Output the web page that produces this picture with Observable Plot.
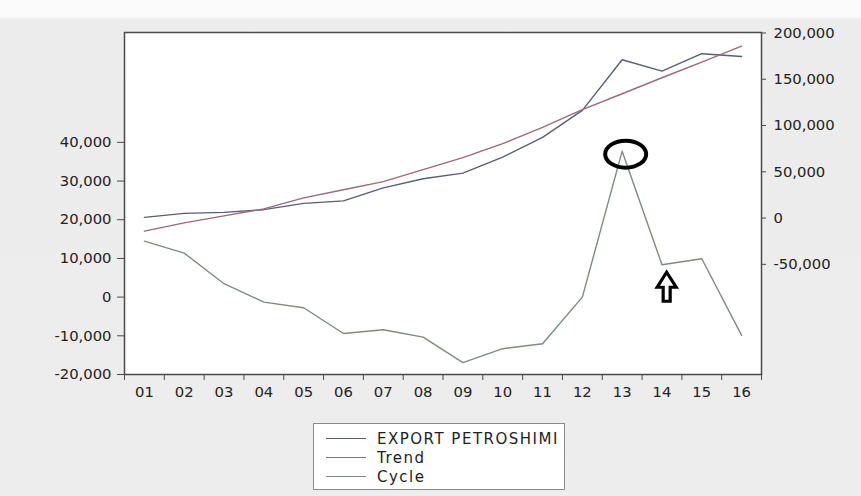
<!DOCTYPE html>
<html><head><meta charset="utf-8">
<script src="https://cdn.jsdelivr.net/npm/d3@7"></script>
<script src="https://cdn.jsdelivr.net/npm/@observablehq/plot@0.6"></script>
<style>
html,body{margin:0;padding:0;}
body{width:861px;height:496px;overflow:hidden;position:relative;
  background:linear-gradient(#fbfbfb 0px,#fbfbfb 16px,#ececec 20px,#ededed 100%);
  font-family:"DejaVu Sans",sans-serif;}
#chart svg{display:block;}
#legend{position:absolute;left:313px;top:423px;width:252px;height:67px;background:#fff;border:1px solid #8a8a8a;box-sizing:border-box;}
.item{position:absolute;left:0;width:250px;height:18px;}
.item .ln{position:absolute;left:12px;top:8px;width:40px;height:0;border-top:1.5px solid #888;}
.item .tx{position:absolute;left:63px;top:0;font-size:15px;line-height:18px;letter-spacing:1.5px;color:#1e1e1e;white-space:nowrap;}
</style>
</head><body>
<div id="chart"></div>
<div id="legend"></div>
<script>
// ---- data ----
const years = ["01","02","03","04","05","06","07","08","09","10","11","12","13","14","15","16"];
const exportVals = [760, 5080, 6160, 9070, 15880, 18580, 32600, 42550, 48600, 65880, 87160, 116400, 171080, 158760, 177560, 174640];
const trendVals  = [-14040, -5180, 2380, 9940, 21820, 30670, 39420, 52380, 65230, 80350, 97960, 117070, 134350, 151630, 168480, 185760];
const cycleVals  = [14470, 11370, 3460, -1290, -2740, -9400, -8420, -10340, -16950, -13330, -12040, 0, 37730, 8370, 9920, -9900];
const leftTicks  = [-20000, -10000, 0, 10000, 20000, 30000, 40000];
const rightTicks = [-50000, 0, 50000, 100000, 150000, 200000];
const seriesNames = ["EXPORT PETROSHIMI", "Trend", "Cycle"];
const seriesColors = ["#5a5e74", "#9b6a77", "#7f8b80"];
const circledYear = "13";
const arrowYear = "14";

// ---- scales (left axis = Cycle, right axis = Export & Trend) ----
const lmin = -20000, lmax = 68400, rmin = -169000, rmax = 200500;
const toLeft = v => lmin + (v - rmin) * (lmax - lmin) / (rmax - rmin);
const fromLeft = u => rmin + (u - lmin) * (rmax - rmin) / (lmax - lmin);
const locale = d3.formatLocale({decimal: ".", thousands: ",", grouping: [3], currency: ["", ""], minus: "-"});
const fmt = locale.format(",");

const rows = years.map((t, i) => ({i: i + 1, label: t, exp: exportVals[i], trend: trendVals[i], cycle: cycleVals[i]}));
const edges = d3.range(0, years.length + 1).map(k => k + 0.5);
const centers = rows.map(d => d.i);

const ellipseSymbol = {draw(ctx) {
  const rx = 20.5, ry = 13.5, k = 0.5523;
  ctx.moveTo(rx, 0);
  ctx.bezierCurveTo(rx, ry * k, rx * k, ry, 0, ry);
  ctx.bezierCurveTo(-rx * k, ry, -rx, ry * k, -rx, 0);
  ctx.bezierCurveTo(-rx, -ry * k, -rx * k, -ry, 0, -ry);
  ctx.bezierCurveTo(rx * k, -ry, rx, -ry * k, rx, 0);
  ctx.closePath();
}};
const arrowSymbol = {draw(ctx) {
  ctx.moveTo(0, 0);
  ctx.lineTo(9.5, 15);
  ctx.lineTo(3.5, 15);
  ctx.lineTo(3.5, 29);
  ctx.lineTo(-3.5, 29);
  ctx.lineTo(-3.5, 15);
  ctx.lineTo(-9.5, 15);
  ctx.closePath();
}};

const circled = rows.filter(d => d.label === circledYear);
const arrowed = rows.filter(d => d.label === arrowYear);

const chart = Plot.plot({
  width: 861, height: 410,
  marginLeft: 124, marginRight: 100, marginTop: 32, marginBottom: 36,
  style: {background: "transparent", fontFamily: "DejaVu Sans, sans-serif", fontSize: "14.8px", color: "#222"},
  x: {domain: [0.5, years.length + 0.5], label: null},
  y: {domain: [lmin, lmax], label: null},
  marks: [
    Plot.frame({fill: "white", stroke: "none"}),
    Plot.line(rows, {x: "i", y: d => toLeft(d.exp), stroke: seriesColors[0], strokeWidth: 1.4}),
    Plot.line(rows, {x: "i", y: d => toLeft(d.trend), stroke: seriesColors[1], strokeWidth: 1.4}),
    Plot.line(rows, {x: "i", y: "cycle", stroke: seriesColors[2], strokeWidth: 1.4}),
    Plot.dot(circled, {x: "i", y: "cycle", symbol: ellipseSymbol, r: 10, fill: "none", stroke: "#000", strokeWidth: 4, dx: 3.5, dy: 3}),
    Plot.dot(arrowed, {x: "i", y: "cycle", symbol: arrowSymbol, r: 10, fill: "none", stroke: "#000", strokeWidth: 3.2, dx: 4.7, dy: 7.5}),
    Plot.frame({stroke: "#4a4a4a", strokeWidth: 1.5}),
    Plot.axisX({ticks: edges, tickSize: 6, tickFormat: () => "", stroke: "#4a4a4a", label: null}),
    Plot.axisX({ticks: centers, tickSize: 0, tickPadding: 12, tickFormat: i => years[i - 1], label: null}),
    Plot.axisY({ticks: leftTicks, tickSize: 7, tickPadding: 6, tickFormat: fmt, stroke: "#4a4a4a", label: null}),
    Plot.axisY({anchor: "right", ticks: rightTicks.map(toLeft), tickSize: 4, tickPadding: 8,
      tickFormat: u => fmt(Math.round(fromLeft(u) / 1000) * 1000), stroke: "#4a4a4a", label: null})
  ]
});
document.getElementById("chart").appendChild(chart);

// ---- legend ----
const legend = document.getElementById("legend");
const rowTops = [6, 25, 44];
seriesNames.forEach((name, k) => {
  const it = document.createElement("div");
  it.className = "item";
  it.style.top = rowTops[k] + "px";
  const ln = document.createElement("div");
  ln.className = "ln";
  ln.style.borderTopColor = seriesColors[k];
  const tx = document.createElement("div");
  tx.className = "tx";
  tx.textContent = name;
  it.appendChild(ln); it.appendChild(tx);
  legend.appendChild(it);
});
</script>
</body></html>
